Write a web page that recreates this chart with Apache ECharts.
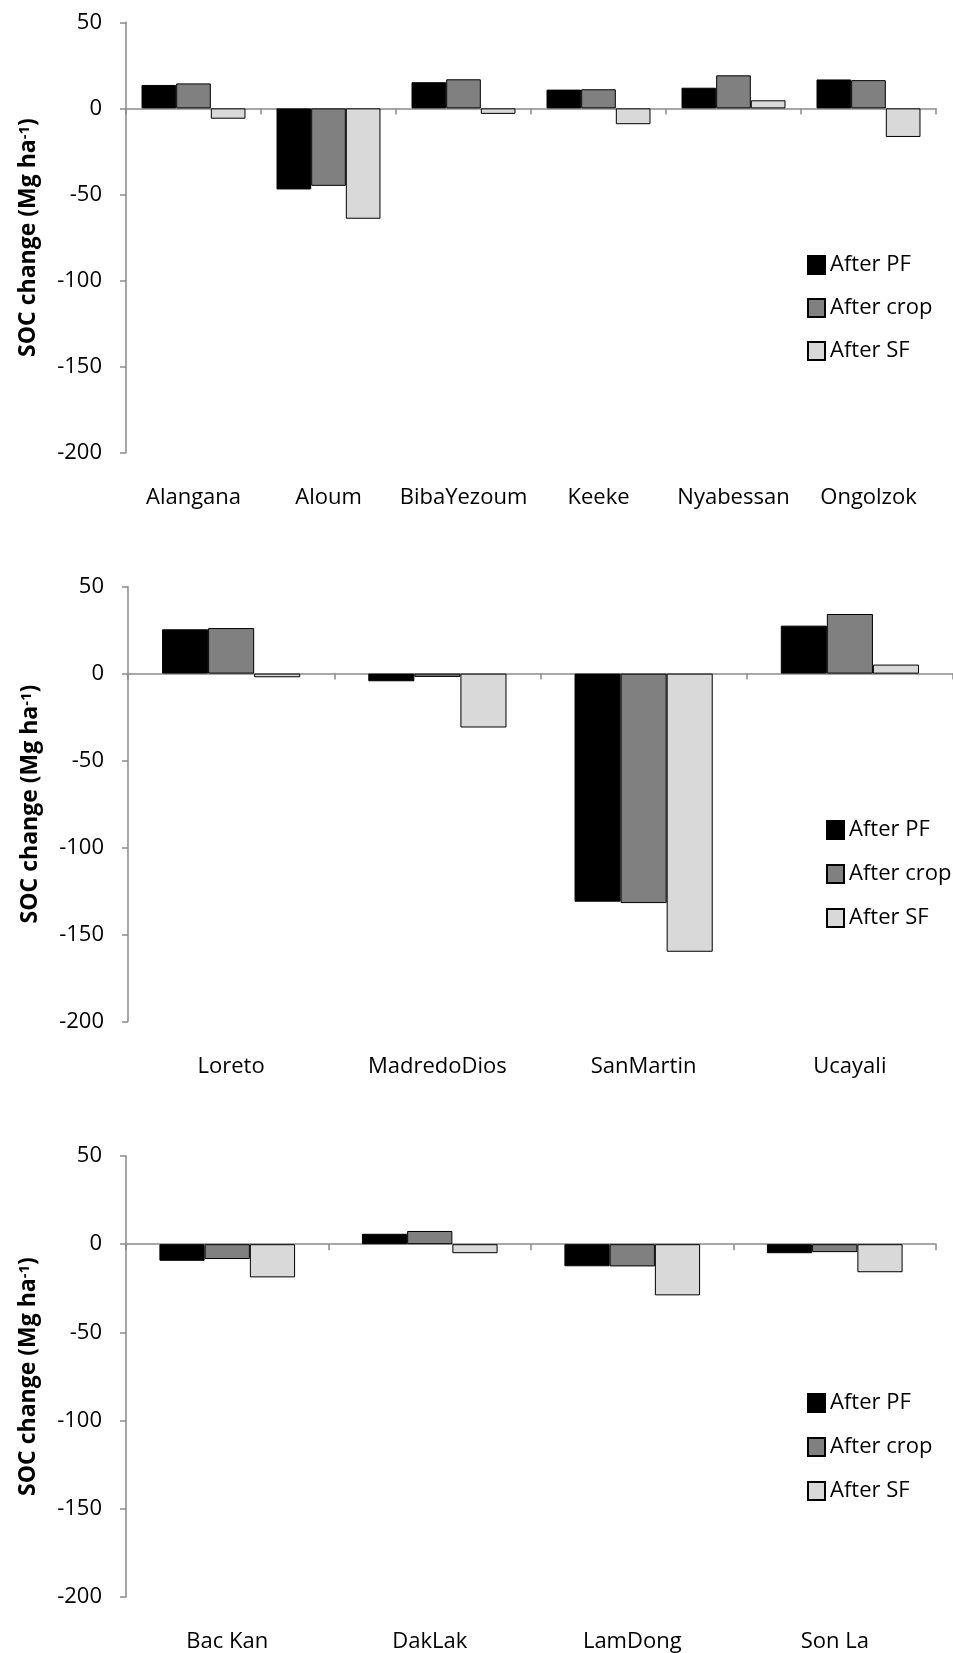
<!DOCTYPE html>
<html>
<head>
<meta charset="utf-8">
<script src="https://cdn.jsdelivr.net/npm/echarts@6/dist/echarts.min.js"></script>
<style>
html,body{margin:0;padding:0;background:#fff;}
#chart{width:953px;height:1653px;}
</style>
</head>
<body>
<div id="chart"></div>
<script>
// ---- data ----
const seriesNames = ['After PF', 'After crop', 'After SF'];
const yTickMin = -200, yTickMax = 50, yTickStep = 50;

const categories1 = ['Alangana', 'Aloum', 'BibaYezoum', 'Keeke', 'Nyabessan', 'Ongolzok'];
const pf1   = [13.6, -47.1, 15.2, 10.9, 12.0, 16.8];
const crop1 = [14.5, -45.0, 16.9, 11.1, 19.2, 16.4];
const sf1   = [-6.0, -64.1, -3.2, -9.2, 4.7, -16.6];

const categories2 = ['Loreto', 'MadredoDios', 'SanMartin', 'Ucayali'];
const pf2   = [25.5, -4.4, -131.2, 27.6];
const crop2 = [26.2, -1.9, -132.0, 34.3];
const sf2   = [-2.1, -31.0, -160.0, 5.2];

const categories3 = ['Bac Kan', 'DakLak', 'LamDong', 'Son La'];
const pf3   = [-9.4, 5.9, -12.5, -5.1];
const crop3 = [-8.4, 7.5, -12.6, -4.5];
const sf3   = [-18.8, -5.1, -29.0, -15.9];

// ---- styling ----
const FONT = 'Open Sans';
const AXIS_COLOR = '#8a8a8a';
const barColors = ['#000000', '#808080', '#d9d9d9'];

const panels = [
  { cats: categories1, vals: [pf1, crop1, sf1], grid: {left: 126, top: 22.3, width: 810, height: 430.4}, gap: '23%', labelMargin: 34, legend: {left: 802, top: 249, itemGap: 21} },
  { cats: categories2, vals: [pf2, crop2, sf2], grid: {left: 128, top: 586.7, width: 828, height: 434.6}, gap: '33%', labelMargin: 34, legend: {left: 821, top: 814, itemGap: 22} },
  { cats: categories3, vals: [pf3, crop3, sf3], grid: {left: 126, top: 1156, width: 810, height: 441.5}, gap: '33%', labelMargin: 34, legend: {left: 802, top: 1387, itemGap: 22} }
];

const option = {
  animation: false,
  backgroundColor: '#fff',
  textStyle: { fontFamily: FONT },
  grid: [], xAxis: [], yAxis: [], series: [], legend: []
};

panels.forEach((p, i) => {
  option.grid.push(Object.assign({ containLabel: false }, p.grid));
  // zero line axis with ticks
  option.xAxis.push({
    type: 'category', gridIndex: i, data: p.cats, position: 'bottom',
    axisLine: { show: true, onZero: true, lineStyle: { color: AXIS_COLOR, width: 1.5 } },
    axisTick: { show: true, length: 6, inside: false, lineStyle: { color: AXIS_COLOR, width: 1.5 } },
    axisLabel: { show: false }
  });
  // label axis at bottom
  option.xAxis.push({
    type: 'category', gridIndex: i, data: p.cats, position: 'bottom',
    axisLine: { show: false, onZero: false },
    axisTick: { show: false },
    axisLabel: { show: true, margin: p.labelMargin, color: '#000', fontSize: 22, fontFamily: FONT, interval: 0 }
  });
  option.yAxis.push({
    type: 'value', gridIndex: i, min: yTickMin, max: yTickMax, interval: yTickStep,
    axisLine: { show: true, lineStyle: { color: AXIS_COLOR, width: 1.5 } },
    axisTick: { show: true, length: 6, lineStyle: { color: AXIS_COLOR, width: 1.5 } },
    splitLine: { show: false },
    axisLabel: { color: '#000', fontSize: 22, fontFamily: FONT, margin: 24 },
    name: 'SOC change (Mg ha{s|-1})',
    nameLocation: 'middle', nameRotate: 90, nameGap: 86,
    nameTextStyle: {
      color: '#000', fontSize: 23, fontWeight: 'bold', fontFamily: FONT,
      rich: { s: { fontSize: 15, fontWeight: 'bold', fontFamily: FONT, color: '#000', verticalAlign: 'top' } }
    }
  });
  seriesNames.forEach((name, k) => {
    option.series.push({
      type: 'bar', name: name, xAxisIndex: i * 2, yAxisIndex: i,
      data: p.vals[k],
      barGap: '0%', barCategoryGap: p.gap,
      itemStyle: { color: barColors[k], borderColor: '#000', borderWidth: 1 }
    });
  });
  option.legend.push({
    orient: 'vertical', left: p.legend.left, top: p.legend.top, itemGap: p.legend.itemGap,
    itemWidth: 17, itemHeight: 18, icon: 'rect',
    data: seriesNames,
    textStyle: { color: '#000', fontSize: 22, fontFamily: FONT, padding: [0, 0, 0, 0] },
    selectedMode: false
  });
});

const chart = echarts.init(document.getElementById('chart'), null, { renderer: 'canvas' });
chart.setOption(option);
</script>
</body>
</html>
